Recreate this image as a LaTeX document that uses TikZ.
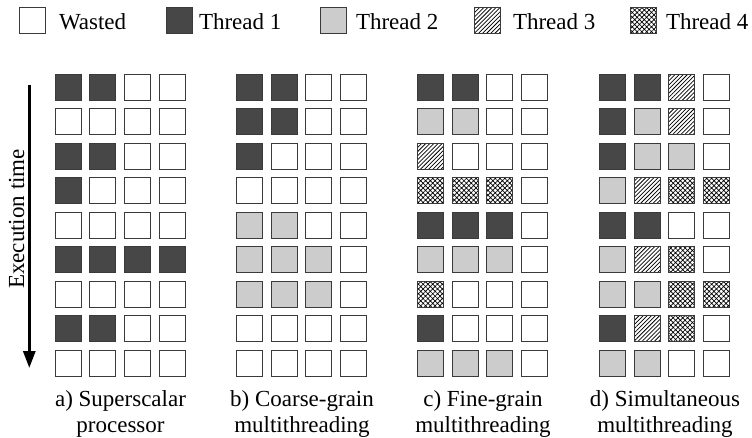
\documentclass[tikz,border=0pt]{standalone}
\usepackage{fontspec}
\setmainfont{Liberation Serif}
\usetikzlibrary{patterns.meta,arrows.meta}
\definecolor{darkfill}{HTML}{474747}
\definecolor{lightfill}{HTML}{CCCCCC}
\definecolor{cellborder}{HTML}{3A3A3A}
\tikzset{
  cell/.style={draw=cellborder, line width=0.9pt, minimum size=26pt, inner sep=0pt, outer sep=0pt},
  t0/.style={cell, fill=white},
  t1/.style={cell, fill=darkfill},
  t2/.style={cell, fill=lightfill},
  t3/.style={cell, pattern={Lines[angle=45, distance=2.9pt, line width=0.75pt]}, pattern color=black},
  t4/.style={cell, pattern={Hatch[angle=45, distance=3.4pt, line width=0.7pt]}, pattern color=black},
  txt/.style={font=\fontsize{23}{26}\selectfont, inner sep=0pt, outer sep=0pt},
  legtxt/.style={txt, anchor=base west},
  captxt/.style={txt, anchor=base},
  timearrow/.style={line width=3pt, -{Triangle[width=12pt, length=17pt]}},
}
\begin{document}
\begin{tikzpicture}[x=1pt, y=-1pt]
\useasboundingbox (0,0) rectangle (752,438);
% legend
\node[t0] (lg0) at (32,20.5) {};
\node[legtxt] (lt0) at (59,29.5) {Wasted};
\node[t1] (lg1) at (179,20.5) {};
\node[legtxt] (lt1) at (199,29.5) {Thread 1};
\node[t2] (lg2) at (333,20.5) {};
\node[legtxt] (lt2) at (356,29.5) {Thread 2};
\node[t3] (lg3) at (487.5,20.5) {};
\node[legtxt] (lt3) at (513,29.5) {Thread 3};
\node[t4] (lg4) at (643.5,20.5) {};
\node[legtxt] (lt4) at (666,29.5) {Thread 4};
% grids
\foreach \p/\xo/\rows in {
  a/55/{{1,1,0,0},{0,0,0,0},{1,1,0,0},{1,0,0,0},{0,0,0,0},{1,1,1,1},{0,0,0,0},{1,1,0,0},{0,0,0,0}},
  b/236.5/{{1,1,0,0},{1,1,0,0},{1,0,0,0},{0,0,0,0},{2,2,0,0},{2,2,2,0},{2,2,2,0},{0,0,0,0},{0,0,0,0}},
  c/417.5/{{1,1,0,0},{2,2,0,0},{3,0,0,0},{4,4,4,0},{1,1,1,0},{2,2,2,0},{4,0,0,0},{1,0,0,0},{2,2,2,0}},
  d/599.3/{{1,1,3,0},{1,2,3,0},{1,2,2,0},{2,3,4,4},{1,1,0,0},{2,3,4,0},{2,2,4,4},{1,3,4,0},{2,2,0,0}}} {
  \foreach \row [count=\r] in \rows {
    \foreach \v [count=\c] in \row {
      \node[t\v] (\p-\r-\c) at ({\xo+13.3+(\c-1)*34.55}, {74+13.3+(\r-1)*34.5}) {};
    }
  }
}
% captions
\node[captxt] (capa1) at (120.5,406.5) {a) Superscalar};
\node[captxt] (capa2) at (120.5,432) {processor};
\node[captxt] (capb1) at (302,406.5) {b) Coarse-grain};
\node[captxt] (capb2) at (302,432) {multithreading};
\node[captxt] (capc1) at (483,406.5) {c) Fine-grain};
\node[captxt] (capc2) at (483,432) {multithreading};
\node[captxt] (capd1) at (665,406.5) {d) Simultaneous};
\node[captxt] (capd2) at (665,432) {multithreading};
% arrow
\coordinate (arrtop) at (29.3,85);
\coordinate (arrbot) at (29.3,368);
\draw[timearrow] (arrtop) -- (arrbot);
\node[txt, rotate=90] (exlabel) at (16.5,219) {Execution time};
\end{tikzpicture}
\end{document}
